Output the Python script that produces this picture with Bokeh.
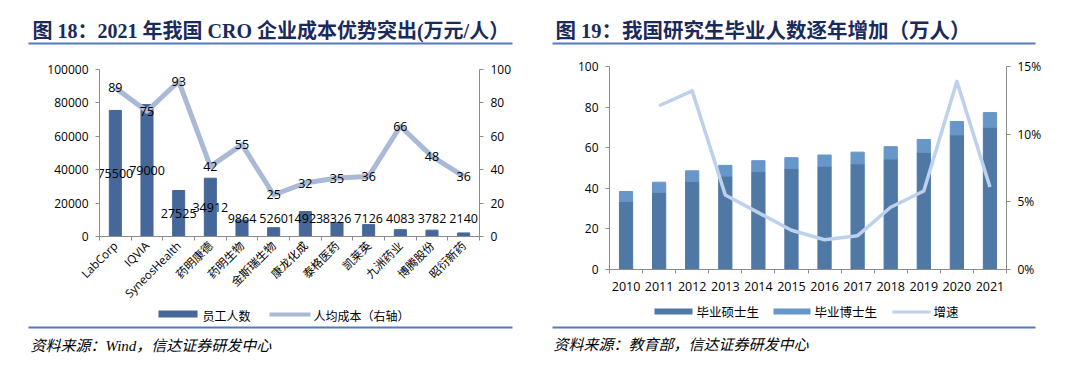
import math
from bokeh.plotting import figure
from bokeh.models import (Range1d, LinearAxis, FixedTicker, Label, BoxAnnotation,
                          ColumnDataSource, NumeralTickFormatter, BasicTickFormatter)
from bokeh.layouts import row, column
from bokeh.embed import file_html
from bokeh.resources import INLINE
from bokeh.core.properties import value

# ---------------- data ----------------
companies = ["LabCorp", "IQVIA", "SyneosHealth", "药明康德", "药明生物", "金斯瑞生物",
             "康龙化成", "泰格医药", "凯莱英", "九洲药业", "博腾股份", "昭衍新药"]
employees = [75500, 79000, 27525, 34912, 9864, 5260, 14923, 8326, 7126, 4083, 3782, 2140]
cost_per_head = [89, 75, 93, 42, 55, 25, 32, 35, 36, 66, 48, 36]
left_ticks = [0, 20000, 40000, 60000, 80000, 100000]
right_ticks = [0, 20, 40, 60, 80, 100]

years = ["2010", "2011", "2012", "2013", "2014", "2015", "2016", "2017", "2018", "2019", "2020", "2021"]
master = [33.5, 38.0, 43.4, 46.0, 48.2, 49.7, 50.9, 52.0, 54.4, 57.7, 66.3, 70.1]
phd = [4.9, 5.0, 5.2, 5.3, 5.4, 5.4, 5.5, 5.8, 6.1, 6.3, 6.6, 7.2]
growth = [0.121, 0.132, 0.055, 0.042, 0.029, 0.022, 0.025, 0.046, 0.058, 0.139, 0.061]  # 2011-2021
grad_ticks = [0, 20, 40, 60, 80, 100]
growth_ticks = [0, 0.05, 0.10, 0.15]

# ---------------- styles ----------------
FONT = "'Open Sans', 'Noto Sans CJK SC', sans-serif"
TITLE_FONT = "'Liberation Serif', 'Noto Sans CJK SC', serif"
FOOT_FONT = "'Liberation Serif', 'Noto Sans CJK SC', serif"
TITLE_COLOR = "#1B2A5C"
RULE_COLOR = "#5479C4"
AXIS_COLOR = "#8C8C8C"
BAR1 = "#46679A"
LINE1 = "#A9B9D6"
BAR_M = "#4F78A5"
BAR_P = "#6796C9"
LINE2 = "#BDD0EC"


def style_value_axis(ax, size="12px"):
    ax.axis_line_color = AXIS_COLOR
    ax.major_tick_line_color = AXIS_COLOR
    ax.major_tick_out = 4
    ax.major_tick_in = 0
    ax.minor_tick_line_color = None
    ax.major_label_text_font = FONT
    ax.major_label_text_font_size = size
    ax.major_label_text_color = "#000000"
    ax.major_label_standoff = 7


def category_axis(names, size, standoff, orientation="horizontal"):
    centers = [i + 0.5 for i in range(len(names))]
    bounds = list(range(len(names) + 1))
    ax = LinearAxis(ticker=FixedTicker(ticks=centers, minor_ticks=bounds))
    ax.major_label_overrides = {c: n for c, n in zip(centers, names)}
    ax.axis_line_color = AXIS_COLOR
    ax.major_tick_line_color = None
    ax.minor_tick_line_color = AXIS_COLOR
    ax.minor_tick_out = 4
    ax.minor_tick_in = 0
    ax.major_label_orientation = orientation
    ax.major_label_text_font = FONT
    ax.major_label_text_font_size = size
    ax.major_label_text_color = "#000000"
    ax.major_label_standoff = standoff
    return ax


def chart_figure(n, yr, fw, fh, left, right, top, bottom):
    p = figure(frame_width=fw, frame_height=fh, x_range=Range1d(0, n), y_range=yr,
               output_backend="svg", toolbar_location=None, x_axis_location=None,
               min_border_left=left, min_border_right=right,
               min_border_top=top, min_border_bottom=bottom, frame_align=False)
    p.xgrid.visible = False
    p.ygrid.visible = False
    p.outline_line_color = None
    p.background_fill_color = "white"
    p.border_fill_color = "white"
    return p


def deco_figure(h):
    d = figure(width=540, height=h, x_range=Range1d(0, 540), y_range=Range1d(h, 0),
               output_backend="svg", toolbar_location=None, x_axis_location=None,
               y_axis_location=None, min_border=0, frame_align=False)
    d.xgrid.visible = False
    d.ygrid.visible = False
    d.outline_line_color = None
    d.background_fill_color = "white"
    d.border_fill_color = "white"
    return d


def add_label(d, x, y, text, size, font=FONT, color="#000000", style="normal"):
    d.add_layout(Label(x=x, y=y, text=text, text_font=font, text_font_size=size,
                       text_color=color, text_font_style=style, text_align="left",
                       text_baseline="middle"))


def add_box(d, l, r, t, b, color):
    d.add_layout(BoxAnnotation(left=l, right=r, top=t, bottom=b,
                               fill_color=color, fill_alpha=1, line_color=None))


# ---------------- left chart ----------------
p1 = chart_figure(len(companies), Range1d(0, 100000), 380, 167, 99, 61, 19, 72)
p1.extra_y_ranges = {"r": Range1d(0, 100)}
p1.yaxis.ticker = FixedTicker(ticks=left_ticks)
p1.yaxis.formatter = BasicTickFormatter(use_scientific=False)
style_value_axis(p1.yaxis[0])
ax_r = LinearAxis(y_range_name="r", ticker=FixedTicker(ticks=right_ticks))
style_value_axis(ax_r)
p1.add_layout(ax_r, "right")
p1.add_layout(category_axis(companies, "11.5px", 1, math.pi / 4), "below")

xpos1 = [i + 0.5 for i in range(len(companies))]
src1 = ColumnDataSource(dict(
    x=xpos1, emp=employees, cost=cost_per_head,
    emp_lbl=[str(v) for v in employees],
    emp_y=[max(v / 2, 11000) for v in employees],
    cost_lbl=[str(v) for v in cost_per_head]))
p1.vbar(x="x", top="emp", width=0.38, color=BAR1, source=src1)
p1.line(x="x", y="cost", y_range_name="r", line_width=5, color=LINE1, line_join="round",
        source=src1)
p1.text(x="x", y="emp_y", text="emp_lbl", source=src1, text_align="center",
        text_baseline="middle", text_font=value(FONT), text_font_size="12.5px",
        text_color="#000000")
p1.text(x="x", y="cost", text="cost_lbl", y_range_name="r", source=src1, text_align="center",
        text_baseline="middle", text_font=value(FONT), text_font_size="12.5px",
        text_color="#000000")

t1 = deco_figure(50)
add_label(t1, 32, 30, "图 18：2021 年我国 CRO 企业成本优势突出(万元/人）", "20px",
          font=TITLE_FONT, color=TITLE_COLOR, style="bold")
add_box(t1, 28, 512, 42, 44, RULE_COLOR)

f1 = deco_figure(69)
add_box(f1, 158, 197, 2, 9, BAR1)
add_label(f1, 202, 8, "员工人数", "12px")
add_box(f1, 269, 310, 4, 8, LINE1)
add_label(f1, 313, 8, "人均成本（右轴）", "12px")
add_box(f1, 28, 512, 18, 20, RULE_COLOR)
add_label(f1, 30, 37, "资料来源：Wind，信达证券研发中心", "15px", font=FOOT_FONT,
          style="italic")

# ---------------- right chart ----------------
p2 = chart_figure(len(years), Range1d(0, 100), 397, 203, 69, 74, 16, 31)
p2.extra_y_ranges = {"g": Range1d(0, 0.15)}
p2.yaxis.ticker = FixedTicker(ticks=grad_ticks)
style_value_axis(p2.yaxis[0])
ax_g = LinearAxis(y_range_name="g", ticker=FixedTicker(ticks=growth_ticks),
                  formatter=NumeralTickFormatter(format="0%"))
style_value_axis(ax_g)
p2.add_layout(ax_g, "right")
p2.add_layout(category_axis(years, "12.5px", 6), "below")

xpos2 = [i + 0.5 for i in range(len(years))]
src2 = ColumnDataSource(dict(x=xpos2, master=master, phd=phd))
p2.vbar_stack(["master", "phd"], x="x", width=0.4, color=[BAR_M, BAR_P], source=src2)
p2.line(x=xpos2[1:], y=growth, y_range_name="g", line_width=3.5, color=LINE2,
        line_join="round")

t2 = deco_figure(50)
add_label(t2, 15, 30, "图 19：我国研究生毕业人数逐年增加（万人）", "20.5px",
          font=TITLE_FONT, color=TITLE_COLOR, style="bold")
add_box(t2, 12, 495, 42, 44, RULE_COLOR)

f2 = deco_figure(77)
add_box(f2, 114, 152, 8, 14, BAR_M)
add_label(f2, 156, 12, "毕业硕士生", "12.5px")
add_box(f2, 233, 270, 8, 14, BAR_P)
add_label(f2, 274, 12, "毕业博士生", "12.5px")
add_box(f2, 352, 390, 10, 13, LINE2)
add_label(f2, 393, 12, "增速", "12.5px")
add_box(f2, 12, 495, 26, 28, RULE_COLOR)
add_label(f2, 13, 44, "资料来源：教育部，信达证券研发中心", "15px", font=FOOT_FONT,
          style="italic")

layout = row(column(t1, p1, f1), column(t2, p2, f2))
open("out.html", "w").write(file_html(layout, INLINE))
